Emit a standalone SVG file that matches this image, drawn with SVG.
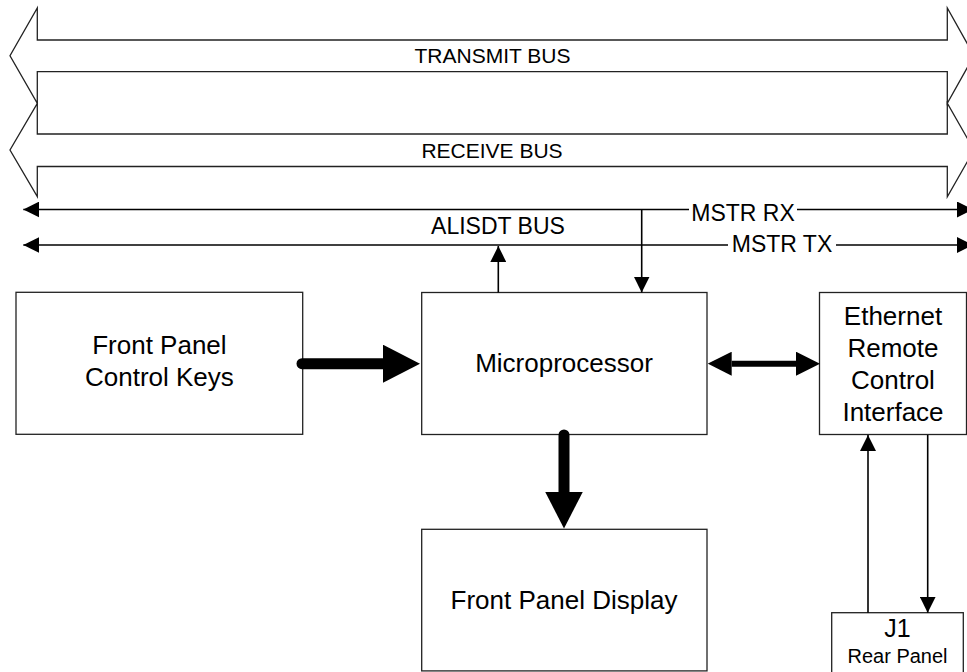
<svg xmlns="http://www.w3.org/2000/svg" width="967" height="672" viewBox="0 0 967 672">
<defs>
<style>
.box{fill:#fff;stroke:#222;stroke-width:1.3}
.bus{fill:none;stroke:#222;stroke-width:1.3}
.t{font-family:"Liberation Sans",Arial,sans-serif;fill:#000;text-anchor:middle}
.lbl{font-size:26px}
.bl{font-size:21px}
.sl{font-size:23px}
.thin{fill:none;stroke:#000;stroke-width:1.6}
.thick{fill:none;stroke:#000;stroke-width:11;stroke-linecap:round}
.mid{fill:none;stroke:#000;stroke-width:6}
</style>
<marker id="ah" viewBox="0 0 16 16" refX="16" refY="8" markerWidth="16" markerHeight="16" markerUnits="userSpaceOnUse" orient="auto-start-reverse"><path d="M0,0 L16,8 L0,16 Z" fill="#000"/></marker>
<marker id="bh" viewBox="0 0 37 38" refX="0" refY="19" markerWidth="37" markerHeight="38" markerUnits="userSpaceOnUse" orient="auto-start-reverse"><path d="M0,0 L37,19 L0,38 Z" fill="#000"/></marker>
<marker id="mh" viewBox="0 0 24 24" refX="0" refY="12" markerWidth="24" markerHeight="24" markerUnits="userSpaceOnUse" orient="auto-start-reverse"><path d="M0,0 L24,12 L0,24 Z" fill="#000"/></marker>
</defs>
<rect width="967" height="672" fill="#fff"/>

<g id="transmit-bus">
<path class="bus" d="M37.3 40 H947.3 V8 L974 55.7 L947.3 103.3 V71.7 H37.3 V103.3 L10 55.7 L37.3 8 Z"/>
<text class="t bl" x="492.5" y="62.5">TRANSMIT BUS</text>
</g>
<g id="receive-bus">
<path class="bus" d="M37.3 134 H947.3 V103.3 L974 150 L947.3 196.7 V166.5 H37.3 V196.7 L10 150 L37.3 103.3 Z"/>
<text class="t bl" x="492" y="157.5">RECEIVE BUS</text>
</g>

<g id="front-panel-control-keys">
<rect class="box" x="16" y="292.3" width="286.7" height="142"/>
<text class="t lbl" x="159.4" y="354">Front Panel</text>
<text class="t lbl" x="159.4" y="386">Control Keys</text>
</g>

<g id="microprocessor">
<rect class="box" x="421.7" y="292.5" width="285.3" height="142"/>
<text class="t lbl" x="564" y="372">Microprocessor</text>
</g>

<g id="ethernet">
<rect class="box" x="819.5" y="292.5" width="147" height="142"/>
<text class="t lbl" x="893" y="325">Ethernet</text>
<text class="t lbl" x="893" y="357">Remote</text>
<text class="t lbl" x="893" y="389">Control</text>
<text class="t lbl" x="893" y="421">Interface</text>
</g>

<g id="front-panel-display">
<rect class="box" x="421.7" y="529.3" width="285.3" height="141.6"/>
<text class="t lbl" x="564" y="609">Front Panel Display</text>
</g>

<g id="j1">
<rect class="box" x="831.7" y="612.7" width="131.6" height="64"/>
<text class="t" style="font-size:25px" x="897.5" y="637">J1</text>
<text class="t" style="font-size:20px" x="897.5" y="663">Rear Panel</text>
</g>

<g id="connectors">
<path class="thin" d="M23.3 209.5 H973" marker-start="url(#ah)" marker-end="url(#ah)"/>
<path class="thin" d="M23.3 245 H973" marker-start="url(#ah)" marker-end="url(#ah)"/>
<path class="thin" d="M498.3 292.5 V246" marker-end="url(#ah)"/>
<path class="thin" d="M641.7 209.5 V292.5" marker-end="url(#ah)"/>
<path class="thick" d="M302 363.7 H383" marker-end="url(#bh)"/>
<path class="thick" d="M564 435 V491.5" marker-end="url(#bh)"/>
<path class="mid" d="M731.7 363.7 H796" marker-start="url(#mh)" marker-end="url(#mh)"/>
<path class="thin" d="M868 612.7 V435" marker-end="url(#ah)"/>
<path class="thin" d="M927.7 435 V612.7" marker-end="url(#ah)"/>
</g>

<g id="bus-labels">
<text class="t sl" x="498" y="234">ALISDT BUS</text>
<rect x="689" y="203" width="108" height="20" fill="#fff"/>
<text class="t sl" x="743" y="221">MSTR RX</text>
<rect x="728" y="238" width="108" height="16" fill="#fff"/>
<text class="t sl" x="782" y="252">MSTR TX</text>
</g>
</svg>
